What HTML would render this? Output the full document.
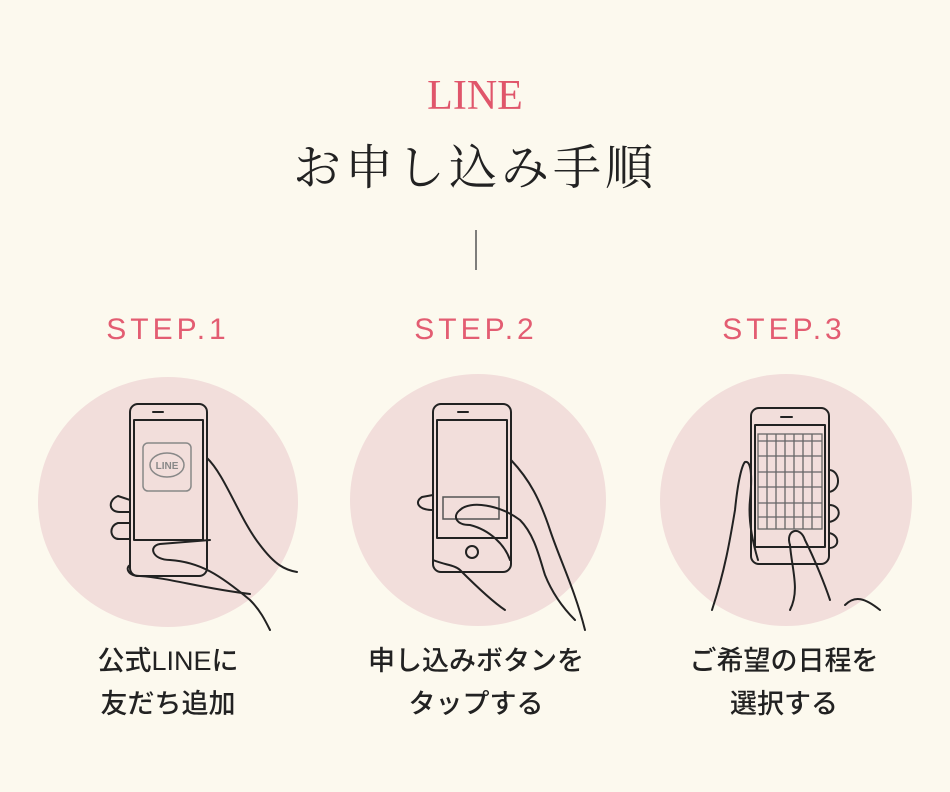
<!DOCTYPE html>
<html><head><meta charset="utf-8"><style>
html,body{margin:0;padding:0;width:950px;height:792px;background:#fcf9ee;overflow:hidden}
svg{display:block}
.cap{font-family:"Liberation Sans","Noto Sans CJK JP",sans-serif;font-size:27px;fill:#222;text-anchor:middle;font-weight:500}
.step{font-family:"Liberation Sans",sans-serif;font-size:30px;fill:#e35d72;text-anchor:middle;letter-spacing:4px}
.ln{fill:none;stroke:#222;stroke-width:2;stroke-linecap:round;stroke-linejoin:round}
</style></head><body>
<svg width="950" height="792" viewBox="0 0 950 792">
<text x="475" y="109" text-anchor="middle" font-family="Liberation Serif,serif" font-size="42" fill="#e0566b">LINE</text>
<text x="475" y="184" text-anchor="middle" font-family="'Liberation Serif','Noto Serif CJK SC',serif" font-size="48" fill="#222" letter-spacing="4">お申し込み手順</text>
<line x1="476" y1="230" x2="476" y2="270" stroke="#555" stroke-width="1.5"/>
<text class="step" x="168" y="339">STEP.1</text>
<text class="step" x="476" y="339">STEP.2</text>
<text class="step" x="784" y="339">STEP.3</text>
<ellipse cx="168" cy="502" rx="130" ry="125" fill="#f2dedb"/>
<ellipse cx="478" cy="500" rx="128" ry="126" fill="#f2dedb"/>
<ellipse cx="786" cy="500" rx="126" ry="126" fill="#f2dedb"/>
<g>
<rect x="130" y="404" width="77" height="172" rx="8" fill="#f2dedb" class="ln"/>
<rect x="134" y="420" width="69" height="120" class="ln" fill="#f2dedb"/>
<line x1="153" y1="412" x2="163" y2="412" class="ln" stroke-width="3"/>
<rect x="143" y="443" width="48" height="48" rx="5" fill="none" stroke="#888" stroke-width="1.5"/>
<ellipse cx="167" cy="465" rx="17" ry="12" fill="none" stroke="#888" stroke-width="1.5"/>
<text x="167" y="469" text-anchor="middle" font-family="Liberation Sans" font-size="10" font-weight="bold" fill="#888">LINE</text>
<path class="ln" d="M207 458 C225 475 240 520 260 545 C275 565 285 570 297 572"/>
<path class="ln" d="M130 500 L118 496 C108 500 108 512 120 512 L130 512 M130 523 L118 523 C108 526 110 540 120 539 L130 539"/>
<path class="ln" d="M210 540 L160 544 C148 546 152 560 170 560 C200 562 220 575 250 600 C260 610 265 620 270 630"/>
<path class="ln" d="M130 565 C125 568 128 576 140 576 C170 578 200 588 250 594"/>
</g>
<g>
<rect x="433" y="404" width="78" height="168" rx="8" fill="#f2dedb" class="ln"/>
<rect x="437" y="420" width="70" height="118" class="ln" fill="#f2dedb"/>
<line x1="458" y1="412" x2="468" y2="412" class="ln" stroke-width="3"/>
<circle cx="472" cy="552" r="6" class="ln"/>
<rect x="443" y="497" width="56" height="22" fill="none" stroke="#555" stroke-width="1.5"/>
<path class="ln" d="M511 460 C530 480 540 500 550 530 C560 560 575 590 585 630"/>
<path class="ln" d="M433 495 L422 497 C414 502 418 510 433 510"/>
<path class="ln" d="M460 510 C470 500 500 505 520 520 C535 535 540 560 545 575 C555 600 570 615 575 620"/>
<path class="ln" d="M460 510 C452 516 456 525 470 525 C490 530 505 545 510 560"/>
<path class="ln" d="M433 560 C445 565 455 565 460 570 C470 580 490 600 505 610"/>
</g>
<g>
<rect x="751" y="408" width="78" height="156" rx="8" fill="#f2dedb" class="ln"/>
<rect x="755" y="425" width="70" height="122" class="ln" fill="#f2dedb"/>
<line x1="781" y1="417" x2="792" y2="417" class="ln" stroke-width="3"/>
<g stroke="#666" stroke-width="1.3" fill="none">
<rect x="758" y="434" width="64" height="95"/>
<path d="M767 434V529M776 434V529M785 434V529M794 434V529M803 434V529M812 434V529M758 441H822M758 456H822M758 472H822M758 487H822M758 503H822M758 517H822"/>
</g>
<path class="ln" d="M712 610 C725 570 730 540 735 510 C738 480 742 465 745 462 C752 460 752 480 750 500 C748 520 752 540 758 560"/>
<path class="ln" d="M829 470 C840 470 842 490 829 492 M829 505 C842 505 842 520 829 522 M829 533 C840 535 840 548 829 548"/>
<path class="ln" d="M790 545 C785 530 800 525 805 540 C815 560 825 585 830 600"/>
<path class="ln" d="M790 545 C792 570 800 590 790 610"/>
<path class="ln" d="M845 605 C855 595 865 598 880 610"/>
</g>
<text class="cap" x="168" y="670">公式LINEに</text>
<text class="cap" x="168" y="713">友だち追加</text>
<text class="cap" x="476" y="670">申し込みボタンを</text>
<text class="cap" x="476" y="713">タップする</text>
<text class="cap" x="784" y="670">ご希望の日程を</text>
<text class="cap" x="784" y="713">選択する</text>
</svg>
</body></html>
